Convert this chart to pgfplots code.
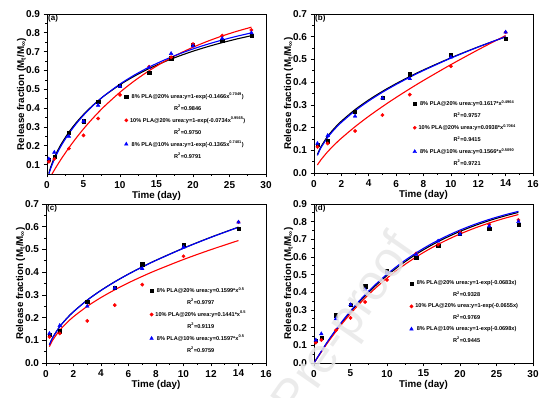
\documentclass[border=0pt]{standalone}
\usepackage{fontspec}
\setmainfont{Liberation Sans}
\usepackage{pgfplots}
\pgfplotsset{compat=1.18}

\tikzset{plab/.style={font=\fontsize{8}{8}\selectfont\bfseries, anchor=north west, inner sep=1pt}}
\pgfplotsset{
 myax/.style={
  scale only axis, width=219pt, height=159pt,
  axis line style={line width=0.8pt},
  tick pos=left, tick align=outside,
  major tick length=3.5pt, minor tick length=2pt,
  every tick/.style={black, line width=0.7pt},
  ticklabel style={font=\fontsize{10}{10}\selectfont\bfseries},
  /pgf/number format/assume math mode=true,
  yticklabel style={/pgf/number format/.cd,fixed,fixed zerofill,precision=1},
  label style={font=\fontsize{9.8}{10}\selectfont\bfseries},
  xlabel={Time (day)},
  ylabel={Release fraction (M\textsubscript{t}/M\textsubscript{∞})},
  xlabel style={yshift=4pt},
  ylabel style={yshift=-7pt},
  minor x tick num=1, minor y tick num=1,
  legend style={draw=none, fill=none, font=\fontsize{5.6}{6.5}\selectfont\bfseries,
    anchor=north west, inner sep=0pt, row sep=1.2pt,
    /tikz/every even column/.append style={column sep=1.5pt}},
  legend cell align=center,
  legend image code/.code={\draw[mark repeat=2,mark phase=2] plot coordinates {(0cm,0cm) (0.07cm,0cm) (0.14cm,0cm)};},
  clip=true,
 },
 bk/.style={only marks, mark=square*, mark size=1.6pt, black},
 rd/.style={only marks, mark=*, mark size=1.7pt, red},
 bl/.style={only marks, mark=triangle*, mark size=2.1pt, blue},
 bkl/.style={black, line width=1.1pt, smooth, no marks, forget plot},
 rdl/.style={red, line width=1.1pt, smooth, no marks, forget plot},
 bll/.style={blue, line width=1.1pt, smooth, no marks, forget plot},
}

\begin{document}
\begin{tikzpicture}
\useasboundingbox (0,0) rectangle (554pt,398pt);

% ---------------- (a)
\begin{axis}[myax, at={(47pt,224pt)}, anchor=south west, height=160pt,
  xmin=0, xmax=30, ymin=0.05, ymax=0.9, xtick={0,5,...,30}, ytick={0.1,0.2,...,0.9},
  legend style={at={(rel axis cs:0.352,0.52)}}]
\addplot[bk] coordinates {(0.25,0.125)(1,0.14)(3,0.27)(5,0.33)(7,0.435)(10,0.52)(14,0.59)(17,0.665)(20,0.735)(24,0.76)(28,0.785)};
\addlegendentry{8\% PLA@20\% urea:y=1-exp(-0.1466x\textsuperscript{0.7049})}
\addlegendimage{empty legend}\addlegendentry{R\textsuperscript{2}=0.9846}
\addplot[rd] coordinates {(0.25,0.115)(1,0.13)(3,0.185)(5,0.255)(7,0.345)(10,0.47)(14,0.62)(17,0.67)(20,0.74)(24,0.785)(28,0.815)};
\addlegendentry{10\% PLA@20\% urea:y=1-exp(-0.0734x\textsuperscript{0.9565})}
\addlegendimage{empty legend}\addlegendentry{R\textsuperscript{2}=0.9750}
\addplot[bl] coordinates {(0.25,0.13)(1,0.165)(3,0.25)(5,0.33)(7,0.415)(10,0.515)(14,0.615)(17,0.69)(20,0.73)(24,0.77)(28,0.80)};
\addlegendentry{8\% PLA@10\% urea:y=1-exp(-0.1365x\textsuperscript{0.7401})}
\addlegendimage{empty legend}\addlegendentry{R\textsuperscript{2}=0.9791}
\addplot[bkl] coordinates {(0.25,0.0537)(0.5,0.0860)(1,0.1364)(1.5,0.1772)(2,0.2126)(3,0.2725)(4,0.3226)(5,0.3661)(6,0.4046)(7,0.4390)(8,0.4701)(10,0.5244)(12,0.5705)(14,0.6103)(16,0.6449)(18,0.6753)(20,0.7023)(22,0.7263)(24,0.7479)(26,0.7673)(28,0.7848)};
\addplot[rdl] coordinates {(0.5,0.0371)(1,0.0708)(1.5,0.1025)(2,0.1327)(3,0.1892)(4,0.2412)(5,0.2894)(6,0.3341)(7,0.3757)(8,0.4145)(10,0.4844)(12,0.5455)(14,0.5990)(16,0.6459)(18,0.6871)(20,0.7233)(22,0.7552)(24,0.7833)(26,0.8081)(28,0.8300)};
\addplot[bll] coordinates {(0.25,0.0477)(0.5,0.0785)(1,0.1276)(1.5,0.1683)(2,0.2039)(3,0.2649)(4,0.3167)(5,0.3619)(6,0.4020)(7,0.4380)(8,0.4707)(10,0.5278)(12,0.5763)(14,0.6181)(16,0.6544)(18,0.6863)(20,0.7144)(22,0.7394)(24,0.7617)(26,0.7817)(28,0.7997)};
\node[plab] at (rel axis cs:0,1) {(a)};
\end{axis}

% ---------------- (b)
\begin{axis}[myax, at={(314pt,225pt)}, anchor=south west,
  xmin=0, xmax=16, ymin=0, ymax=0.7, xtick={0,2,...,16}, ytick={0,0.1,...,0.7},
  legend style={at={(rel axis cs:0.45,0.47)}}]
\addplot[bk] coordinates {(0.25,0.125)(1,0.14)(3,0.27)(5,0.33)(7,0.435)(10,0.52)(14,0.59)};
\addlegendentry{8\% PLA@20\% urea:y=0.1617*x\textsuperscript{0.4964}}
\addlegendimage{empty legend}\addlegendentry{R\textsuperscript{2}=0.9757}
\addplot[rd] coordinates {(0.25,0.115)(1,0.13)(3,0.185)(5,0.255)(7,0.345)(10,0.47)(14,0.62)};
\addlegendentry{10\% PLA@20\% urea:y=0.0938*x\textsuperscript{0.7064}}
\addlegendimage{empty legend}\addlegendentry{R\textsuperscript{2}=0.9415}
\addplot[bl] coordinates {(0.25,0.13)(1,0.165)(3,0.25)(5,0.33)(7,0.415)(10,0.51)(14,0.62)};
\addlegendentry{8\% PLA@10\% urea:y=0.1566*x\textsuperscript{0.5090}}
\addlegendimage{empty legend}\addlegendentry{R\textsuperscript{2}=0.9721}
\addplot[bkl] coordinates {(0.25,0.0813)(0.5,0.1146)(1,0.1617)(1.5,0.1978)(2,0.2281)(3,0.2790)(4,0.3218)(5,0.3595)(6,0.3935)(7,0.4248)(8,0.4539)(10,0.5071)(12,0.5552)(14,0.5993)};
\addplot[rdl] coordinates {(0.25,0.0352)(0.5,0.0575)(1,0.0938)(1.5,0.1249)(2,0.1531)(3,0.2038)(4,0.2498)(5,0.2924)(6,0.3326)(7,0.3708)(8,0.4075)(10,0.4771)(12,0.5427)(14,0.6052)};
\addplot[bll] coordinates {(0.25,0.0773)(0.5,0.1100)(1,0.1566)(1.5,0.1925)(2,0.2228)(3,0.2739)(4,0.3171)(5,0.3553)(6,0.3898)(7,0.4216)(8,0.4513)(10,0.5056)(12,0.5547)(14,0.6001)};
\node[plab] at (rel axis cs:0,1) {(b)};
\end{axis}

% ---------------- (c)
\begin{axis}[myax, at={(46pt,35pt)}, anchor=south west, width=220pt,
  xmin=0, xmax=16, ymin=0, ymax=0.7, xtick={0,2,...,16}, ytick={0,0.1,...,0.7},
  legend style={at={(rel axis cs:0.47,0.49)}}]
\addplot[bk] coordinates {(0.25,0.125)(1,0.14)(3,0.27)(5,0.33)(7,0.435)(10,0.52)(14,0.59)};
\addlegendentry{8\% PLA@20\% urea:y=0.1599*x\textsuperscript{0.5}}
\addlegendimage{empty legend}\addlegendentry{R\textsuperscript{2}=0.9797}
\addplot[rd] coordinates {(0.25,0.115)(1,0.13)(3,0.185)(5,0.255)(7,0.345)(10,0.47)(14,0.62)};
\addlegendentry{10\% PLA@20\% urea:y=0.1441*x\textsuperscript{0.5}}
\addlegendimage{empty legend}\addlegendentry{R\textsuperscript{2}=0.9119}
\addplot[bl] coordinates {(0.25,0.13)(1,0.165)(3,0.25)(5,0.33)(7,0.415)(10,0.51)(14,0.62)};
\addlegendentry{8\% PLA@10\% urea:y=0.1597*x\textsuperscript{0.5}}
\addlegendimage{empty legend}\addlegendentry{R\textsuperscript{2}=0.9759}
\addplot[bkl] coordinates {(0.25,0.0800)(0.5,0.1131)(1,0.1599)(1.5,0.1958)(2,0.2261)(3,0.2770)(4,0.3198)(5,0.3576)(6,0.3917)(7,0.4231)(8,0.4523)(10,0.5057)(12,0.5539)(14,0.5983)};
\addplot[rdl] coordinates {(0.25,0.0721)(0.5,0.1019)(1,0.1441)(1.5,0.1765)(2,0.2038)(3,0.2496)(4,0.2882)(5,0.3222)(6,0.3530)(7,0.3813)(8,0.4076)(10,0.4557)(12,0.4992)(14,0.5392)};
\addplot[bll] coordinates {(0.25,0.0799)(0.5,0.1129)(1,0.1597)(1.5,0.1956)(2,0.2258)(3,0.2766)(4,0.3194)(5,0.3571)(6,0.3912)(7,0.4225)(8,0.4517)(10,0.5050)(12,0.5532)(14,0.5976)};
\node[plab] at (rel axis cs:0,1) {(c)};
\end{axis}

% ---------------- (d)
\begin{axis}[myax, at={(314pt,35pt)}, anchor=south west,
  xmin=0, xmax=30, ymin=0, ymax=0.9, xtick={0,5,...,30}, ytick={0,0.1,...,0.9},
  legend style={at={(rel axis cs:0.435,0.53)}}]
\addplot[bk] coordinates {(0.25,0.125)(1,0.145)(3,0.27)(5,0.33)(7,0.435)(10,0.52)(14,0.595)(17,0.665)(20,0.735)(24,0.76)(28,0.785)};
\addlegendentry{8\% PLA@20\% urea:y=1-exp(-0.0683x)}
\addlegendimage{empty legend}\addlegendentry{R\textsuperscript{2}=0.9328}
\addplot[rd] coordinates {(0.25,0.115)(1,0.13)(3,0.185)(5,0.255)(7,0.345)(10,0.47)(14,0.62)(17,0.67)(20,0.74)(24,0.785)(28,0.81)};
\addlegendentry{10\% PLA@20\% urea:y=1-exp(-0.0655x)}
\addlegendimage{empty legend}\addlegendentry{R\textsuperscript{2}=0.9769}
\addplot[bl] coordinates {(0.25,0.13)(1,0.165)(3,0.25)(5,0.33)(7,0.415)(10,0.51)(14,0.615)(17,0.69)(20,0.73)(24,0.775)(28,0.80)};
\addlegendentry{8\% PLA@10\% urea:y=1-exp(-0.0698x)}
\addlegendimage{empty legend}\addlegendentry{R\textsuperscript{2}=0.9445}
\addplot[bkl] coordinates {(0,0)(2,0.1277)(4,0.2390)(6,0.3362)(8,0.4210)(10,0.4949)(12,0.5594)(14,0.6157)(16,0.6647)(18,0.7075)(20,0.7449)(22,0.7774)(24,0.8059)(26,0.8307)(28,0.8523)};
\addplot[rdl] coordinates {(0,0)(2,0.1228)(4,0.2305)(6,0.3250)(8,0.4079)(10,0.4806)(12,0.5444)(14,0.6003)(16,0.6494)(18,0.6924)(20,0.7302)(22,0.7633)(24,0.7924)(26,0.8179)(28,0.8402)};
\addplot[bll] coordinates {(0,0)(2,0.1303)(4,0.2436)(6,0.3422)(8,0.4279)(10,0.5024)(12,0.5673)(14,0.6236)(16,0.6727)(18,0.7153)(20,0.7524)(22,0.7847)(24,0.8127)(26,0.8371)(28,0.8584)};
\node[plab] at (rel axis cs:0,1) {(d)};
\end{axis}

\node[rotate=55, anchor=east, text=black!9, text opacity=0.85, font=\fontsize{50}{50}\selectfont] at (408pt,160pt) {Journal Pre-proof};
\end{tikzpicture}
\end{document}
